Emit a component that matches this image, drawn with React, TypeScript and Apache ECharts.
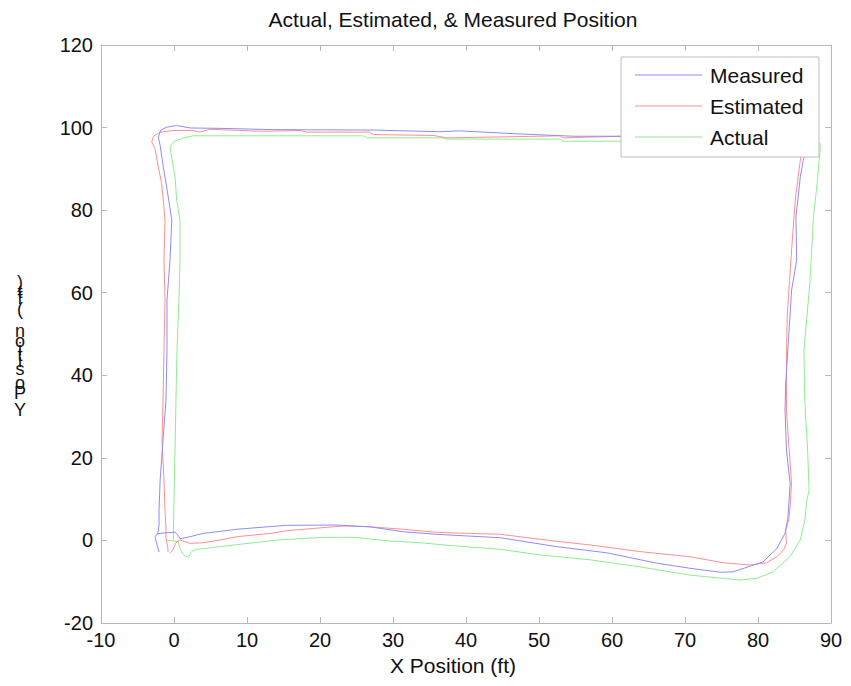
import React, { useEffect, useRef } from "react";
import * as echarts from "echarts";

// Position traces (ft): [x, y] pairs along the lap
const measuredXY: number[][] = [
  [-2.33, 1.55], [-1.5, 1.8], [0.14, 2.0], [0.55, 1.3], [0.82, 0.4],
  [2.19, 0.9], [3.97, 1.7], [8.59, 2.7], [15.4, 3.66], [22.3, 3.73],
  [26.8, 3.3], [31.4, 2.1], [36.0, 1.48], [44.7, 0.65], [52.4, -1.5],
  [59.3, -3.0], [66.1, -5.5], [70.7, -6.75], [74.8, -7.7], [76.6, -7.6],
  [80.7, -5.2], [82.6, -1.9], [83.7, 1.7], [84.1, 5.4], [84.4, 13.8],
  [83.9, 21.9], [83.7, 31.6], [83.8, 38.0], [84.2, 49.3], [84.6, 60.6],
  [85.3, 67.9], [85.2, 78.4], [85.8, 88.1], [86.2, 92.1], [86.6, 94.5],
  [86.8, 97.4], [84.4, 98.1], [72.1, 98.4], [61.1, 97.9], [54.7, 97.9],
  [45.6, 98.6], [39.2, 99.2], [36.4, 99.0], [27.3, 99.4], [13.6, 99.5],
  [6.7, 99.8], [2.2, 99.9], [0.37, 100.5], [-1.0, 100.1], [-1.8, 99.4],
  [-2.15, 97.7], [-1.9, 95.7], [-1.47, 90.5], [-1.0, 85.6], [-0.3, 77.6],
  [-0.55, 67.9], [-0.96, 58.2], [-0.96, 46.1], [-1.1, 34.0], [-1.5, 24.3],
  [-1.9, 14.6], [-2.05, 7.4], [-2.05, 3.7], [-2.2, 1.8], [-2.6, 0.9],
  [-2.37, -0.7], [-2.05, -2.8],
];

const estimatedXY: number[][] = [
  [-0.55, -3.15], [-0.14, -2.3], [0.14, -1.1], [0.37, -0.3], [0.82, 0.1],
  [2.19, -0.7], [3.97, -0.56], [6.3, 0.1], [8.6, 0.9], [13.2, 1.7],
  [15.4, 2.35], [19.1, 2.9], [23.2, 3.5], [26.8, 3.3], [31.4, 2.7],
  [36.0, 1.96], [40.5, 1.7], [44.7, 1.5], [50.1, 0.27], [57.0, -1.1],
  [63.8, -2.7], [70.7, -3.95], [75.2, -5.4], [78.9, -5.96], [81.2, -5.4],
  [82.6, -3.95], [83.5, -2.3], [83.9, -0.7], [83.8, 2.5], [84.2, 4.9],
  [84.4, 8.2], [84.6, 13.9], [84.2, 23.6], [83.9, 31.6], [83.9, 45.0],
  [84.0, 54.2], [84.6, 70.3], [85.1, 82.4], [85.5, 88.1], [85.8, 92.1],
  [86.0, 94.5], [86.2, 97.0], [84.4, 97.7], [61.1, 97.9], [53.3, 97.5],
  [52.9, 98.0], [37.4, 97.5], [35.5, 98.1], [27.3, 98.3], [26.8, 98.9],
  [18.2, 98.9], [17.3, 99.3], [12.2, 99.1], [9.0, 99.3], [4.9, 99.6],
  [3.6, 98.9], [2.6, 99.3], [-0.1, 99.3], [-1.9, 98.9], [-2.8, 97.9],
  [-3.05, 96.5], [-2.6, 94.8], [-2.15, 90.5], [-1.7, 86.5], [-1.47, 82.4],
  [-1.23, 77.6], [-1.37, 67.9], [-1.23, 58.2], [-1.37, 46.1], [-1.5, 34.0],
  [-1.64, 24.3], [-1.37, 14.6], [-1.23, 7.4], [-1.1, 3.0], [-1.1, 0.6],
  [-0.85, -1.6], [-0.82, -2.8],
];

const actualXY: number[][] = [
  [-1.0, 0.1], [0.59, -0.3], [0.82, -1.9], [1.27, -3.5], [1.96, -4.1],
  [2.42, -2.7], [3.1, -2.15], [6.3, -1.5], [10.9, -0.56], [14.1, 0.1],
  [20.5, 0.75], [24.6, 0.75], [29.1, -0.07], [33.7, -0.56], [38.3, -1.3],
  [44.7, -2.15], [50.1, -3.5], [57.0, -4.7], [63.8, -6.4], [70.7, -8.4],
  [75.2, -9.2], [77.5, -9.6], [79.8, -9.2], [82.1, -7.6], [84.4, -3.9],
  [85.8, 0.1], [86.4, 4.9], [86.7, 9.8], [87.0, 12.2], [86.8, 21.9],
  [86.4, 34.0], [86.3, 46.1], [86.7, 54.2], [87.1, 62.3], [87.6, 78.4],
  [88.1, 86.5], [88.5, 94.5], [88.5, 96.2], [87.1, 96.7], [61.1, 96.7],
  [53.3, 96.7], [52.9, 97.2], [37.4, 97.2], [36.9, 97.5], [26.4, 97.5],
  [25.9, 98.0], [2.6, 98.0], [1.27, 97.5], [-0.1, 96.5], [-0.55, 95.3],
  [-0.3, 92.5], [0.14, 88.1], [0.37, 82.4], [0.82, 77.6], [0.82, 67.9],
  [0.68, 58.2], [0.41, 46.1], [0.27, 34.0], [0.14, 21.9], [0.0, 9.8],
  [-0.1, 0.1],
];

const seriesNames = ["Measured", "Estimated", "Actual"];
const seriesColors = ["#8c8cff", "#ff8f8f", "#8fec8f"];

const chartTitle = "Actual, Estimated, & Measured Position";
const xLabel = "X Position (ft)";
// Y-axis caption: upright glyphs stacked bottom to top, with each glyph's centre y (px)
const yLabelGlyphs: [string, number][] = [
  ["Y", 410], ["P", 393], ["o", 383], ["s", 369], ["i", 361], ["t", 355],
  ["i", 349], ["o", 341], ["n", 331], ["(", 309], ["f", 298], ["t", 292], [")", 282],
];

const FONT = "'Liberation Sans', Arial, Helvetica, sans-serif";
const AXIS_GRAY = "#b8b8b8";

export default function App() {
  const ref = useRef<HTMLDivElement>(null);

  useEffect(() => {
    if (!ref.current) return;
    const chart = echarts.init(ref.current, undefined, { renderer: "svg" });

    const gridPos = { left: 101, top: 45, width: 730, height: 578 };
    const xCommon = { type: "value" as const, min: -10, max: 90, interval: 10 };
    const yCommon = { type: "value" as const, min: -20, max: 120, interval: 20 };
    const tick = { show: true, inside: true, length: 6, lineStyle: { color: AXIS_GRAY } };
    const line = { show: true, onZero: false, lineStyle: { color: AXIS_GRAY, width: 1 } };

    const dataSets = [measuredXY, estimatedXY, actualXY];

    chart.setOption({
      animation: false,
      backgroundColor: "#ffffff",
      textStyle: { fontFamily: FONT },
      title: [
        {
          text: chartTitle,
          left: 448,
          top: 4,
          textAlign: "center",
          textStyle: { fontFamily: FONT, fontSize: 21, fontWeight: "normal", color: "#111" },
        },
        {
          text: xLabel,
          left: 448,
          top: 650,
          textAlign: "center",
          textStyle: { fontFamily: FONT, fontSize: 21, fontWeight: "normal", color: "#111" },
        },
      ],
      grid: { ...gridPos, show: false },
      xAxis: [
        {
          ...xCommon,
          position: "bottom",
          axisLine: line,
          axisTick: tick,
          splitLine: { show: false },
          axisLabel: { fontFamily: FONT, fontSize: 20, color: "#111", margin: 7 },
        },
        {
          ...xCommon,
          position: "top",
          axisLine: line,
          axisTick: tick,
          splitLine: { show: false },
          axisLabel: { show: false },
        },
      ],
      yAxis: [
        {
          ...yCommon,
          position: "left",
          axisLine: line,
          axisTick: tick,
          splitLine: { show: false },
          axisLabel: { fontFamily: FONT, fontSize: 20, color: "#111", margin: 8 },
        },
        {
          ...yCommon,
          position: "right",
          axisLine: line,
          axisTick: tick,
          splitLine: { show: false },
          axisLabel: { show: false },
        },
      ],
      legend: {
        data: seriesNames,
        orient: "vertical",
        left: 635,
        top: 64,
        padding: 0,
        icon: "rect",
        itemWidth: 67,
        itemHeight: 1,
        itemGap: 9,
        z: 6,
        textStyle: {
          fontFamily: FONT,
          fontSize: 21,
          lineHeight: 22,
          color: "#111",
          padding: [0, 0, 0, 3],
        },
      },
      graphic: [
        {
          type: "rect",
          z: 5,
          shape: { x: 621, y: 57, width: 198, height: 100 },
          style: { fill: "#ffffff", stroke: "#bdbdbd", lineWidth: 1 },
        },
        ...yLabelGlyphs.map(([ch, y]) => ({
          type: "text",
          x: 20,
          y,
          style: {
            text: ch,
            fontFamily: FONT,
            fontSize: 18,
            fill: "#111",
            align: "center",
            verticalAlign: "middle",
          },
        })),
      ],
      series: [2, 1, 0].map((i) => ({
        name: seriesNames[i],
        type: "line",
        data: dataSets[i],
        symbol: "none",
        z: 2 + (2 - i) * 0.1,
        lineStyle: { color: seriesColors[i], width: 1 },
        itemStyle: { color: seriesColors[i] },
      })),
    });

    return () => chart.dispose();
  }, []);

  return (
    <div
      ref={ref}
      style={{ position: "fixed", left: 0, top: 0, width: 851, height: 686 }}
    />
  );
}
